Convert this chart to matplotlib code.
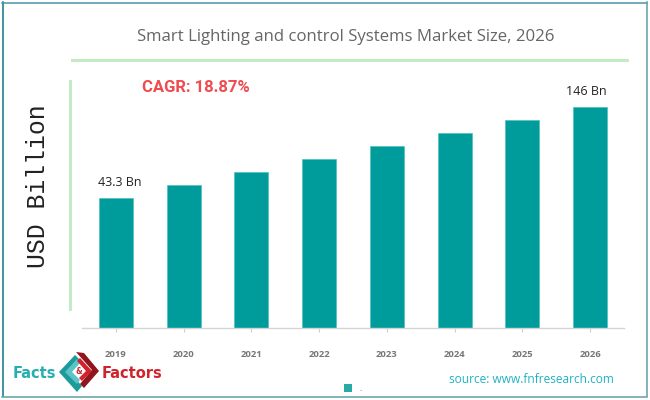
import numpy as np
import matplotlib
matplotlib.use('Agg')
import matplotlib.pyplot as plt
from matplotlib.patches import Polygon, Rectangle

years = ['2019', '2020', '2021', '2022', '2023', '2024', '2025', '2026']
values = [43.3, 58.0, 72.6, 87.3, 102.0, 116.7, 131.4, 146.0]
labels = {0: ('43.3 Bn', 4), 7: ('146 Bn', -4)}

# the bars are not drawn from zero in the original, the axis floor sits below it
floor = -102.9
top = 146.0 + 27 * 1.1286

W, H = 650, 400
fig = plt.figure(figsize=(6.5, 4.0), dpi=100)

# overlay in pixel coordinates for the frame, rules and logo
bg = fig.add_axes([0, 0, 1, 1])
bg.set_xlim(0, W)
bg.set_ylim(H, 0)
bg.axis('off')

frame_col = '#5f9fa8'
bg.plot([2.5, 2.5], [2, 396], color='#0f7485', lw=1.1)
bg.plot([2, 646.5], [2.5, 2.5], color='#4a95a8', lw=1.1)
bg.plot([646.5, 646.5], [2, 396], color=frame_col, lw=1.1)
bg.plot([2, 646.5], [396.5, 396.5], color=frame_col, lw=1.1)

rule_col = '#c5ebc5'
bg.add_patch(Rectangle((71, 59), 558, 3, color=rule_col, lw=0))
bg.add_patch(Rectangle((69, 80), 3, 231, color=rule_col, lw=0))

bg.text(346, 37, 'Smart Lighting and control Systems Market Size, 2026', ha='center', va='center',
        fontsize=12.1, color='#666666', family=['Open Sans', 'DejaVu Sans'])
bg.text(195.5, 87, 'CAGR: 18.87%', ha='center', va='center', fontsize=12, fontweight='bold',
        color='#ef4b50', family=['Liberation Sans Narrow', 'Roboto', 'DejaVu Sans'])
bg.text(38, 186, 'USD Billion', ha='center', va='center', rotation=90, fontsize=17.8,
        color='#222222', family=['Liberation Mono', 'DejaVu Sans Mono'])

# logo
bg.text(13, 373, 'Facts', ha='left', va='center', fontsize=10.5, fontweight='bold',
        color='#27aeb0', family=['Liberation Sans Narrow', 'DejaVu Sans'])
bg.text(102, 373, 'Factors', ha='left', va='center', fontsize=10.5, fontweight='bold',
        color='#d0232b', family=['Liberation Sans Narrow', 'DejaVu Sans'])
bg.add_patch(Polygon([(59, 372), (75, 355), (80, 360), (69, 372), (82, 386), (77, 392)], color='#1d9a9c', lw=0))
bg.add_patch(Polygon([(65, 372), (77, 359), (80, 363), (72, 372), (80, 380), (77, 384)], color='#5cc4c4', lw=0))
bg.add_patch(Polygon([(76, 352), (84, 353), (99, 371), (84, 388), (80, 384), (92, 370)], color='#8f161c', lw=0))
bg.add_patch(Polygon([(80, 358), (92, 371), (82, 381), (79, 378), (86, 371), (77, 361)], color='#d0232b', lw=0))
bg.text(79, 372, '&', ha='center', va='center', fontsize=5.5, fontweight='bold', color='#c9252c')

# legend swatch
bg.add_patch(Rectangle((344, 384), 8, 8, color='#2aa9a9', lw=0))
bg.text(360, 389, '.', ha='center', va='center', fontsize=5, color='#666666')

bg.text(614, 379.5, 'source: www.fnfresearch.com', ha='right', va='center', fontsize=8.6,
        color='#1fb2c4', family=['Open Sans', 'DejaVu Sans'])

# main bars
ax = fig.add_axes([82 / W, 1 - 327.5 / H, 542 / W, 247.5 / H])
ax.patch.set_alpha(0)
x = np.arange(len(years))
heights = [v - floor for v in values]
ax.bar(x, heights, bottom=floor, width=0.5, color='#009b9b', edgecolor='#4fc0c0', linewidth=0.5)
ax.set_xlim(-0.5, 7.5)
ax.set_ylim(floor, top)

for i, (txt, dx) in labels.items():
    ax.annotate(txt, (x[i], values[i]), xytext=(dx, 9), textcoords='offset pixels', ha='center', va='bottom',
                fontsize=9, color='#222222', family=['Open Sans', 'DejaVu Sans'])

for s in ['top', 'left', 'right']:
    ax.spines[s].set_visible(False)
ax.spines['bottom'].set_color('#d4d4d4')
ax.spines['bottom'].set_linewidth(1)
ax.set_yticks([])
ax.set_xticks(x)
ax.set_xticklabels(years, fontsize=6.8, fontweight='bold', color='#777777', family=['Open Sans', 'DejaVu Sans'])
ax.tick_params(axis='x', length=3, width=0.8, color='#d0d0d0', pad=13)

fig.savefig('out.png', dpi=100)
